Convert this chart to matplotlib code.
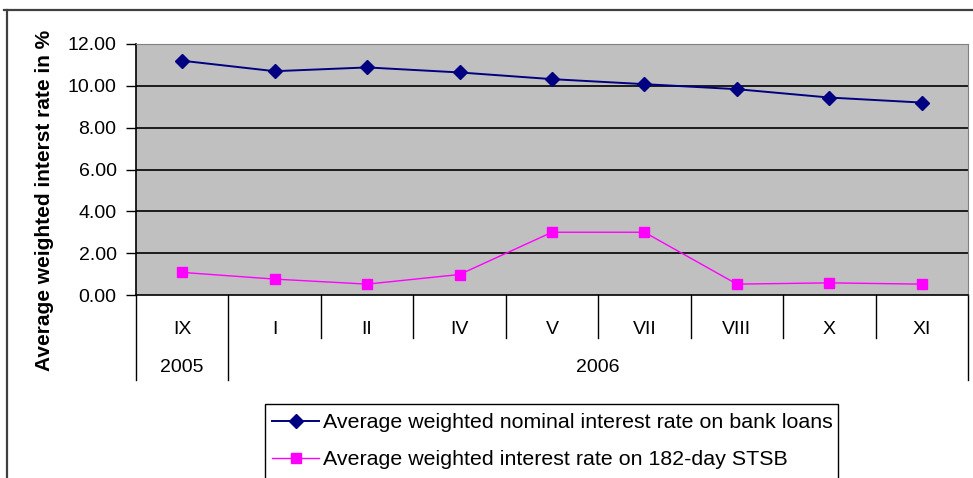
import matplotlib
matplotlib.use("Agg")
import matplotlib.pyplot as plt
from matplotlib.patches import Rectangle
from matplotlib.lines import Line2D
import matplotlib.transforms as mtransforms

plt.rcParams['font.family'] = ['Liberation Sans', 'DejaVu Sans']

months = ['IX', 'I', 'II', 'IV', 'V', 'VII', 'VIII', 'X', 'XI']
years = ['2005', '2006']
year_spans = [(0, 0), (1, 8)]  # first and last month index of each year
loans = [11.20, 10.70, 10.88, 10.64, 10.32, 10.08, 9.84, 9.44, 9.20]
stsb = [1.08, 0.76, 0.52, 0.98, 3.00, 3.00, 0.52, 0.58, 0.52]
loans_label = 'Average weighted nominal interest rate on bank loans'
stsb_label = 'Average weighted interest rate on 182-day STSB'
yticks = [0, 2, 4, 6, 8, 10, 12]

W, H = 973, 478
fig = plt.figure(figsize=(W / 100, H / 100), dpi=100)

def px(x0, y0, x1, y1):
    # pixel box (top-left origin) -> figure fraction rect
    return [x0 / W, 1 - y1 / H, (x1 - x0) / W, (y1 - y0) / H]

# outer chart frame (partly cut off by the picture edge)
fig.add_artist(Line2D([4 / W, 1], [1 - 10 / H] * 2, color='#404040', lw=1.6))
fig.add_artist(Line2D([7 / W] * 2, [0, 1 - 10 / H], color='#404040', lw=1.6))

ax = fig.add_axes(px(136, 44, 968, 295))
ax.set_facecolor('#C0C0C0')
x = list(range(len(months)))
ax.plot(x, loans, color='#000080', lw=1.4, marker='D', ms=7, label=loans_label)
ax.plot(x, stsb, color='#FF00FF', lw=1.0, marker='s', ms=7, label=stsb_label)

ax.set_xlim(-0.5, len(months) - 0.5)
ax.set_ylim(0, 12)
ax.set_yticks(yticks)
ax.set_yticklabels(['%.2f' % v for v in yticks], fontsize=14)
for v in yticks[1:-1]:
    ax.axhline(v, color='black', lw=1.2, zorder=1)
ax.tick_params(axis='y', length=7, width=1, pad=7, direction='out')

# category axis: month labels, separators and year row
ax.set_xticks(x)
ax.set_xticklabels(months, fontsize=14)
ax.tick_params(axis='x', length=0, pad=19)
trans = mtransforms.blended_transform_factory(ax.transData, ax.transAxes)
bound = [i - 0.5 for i in range(len(months) + 1)]
year_bounds = [year_spans[0][0] - 0.5] + [s[1] + 0.5 for s in year_spans]
for b in bound:
    bottom = -0.34 if b in year_bounds else -0.17
    ax.plot([b, b], [0, bottom], color='black', lw=1, transform=trans, clip_on=False)
for name, (a, b) in zip(years, year_spans):
    ax.text((a + b) / 2, -0.29, name, transform=trans, ha='center', va='center', fontsize=14)

for s in ['top', 'right']:
    ax.spines[s].set_color('#808080')
for s in ['left', 'bottom']:
    ax.spines[s].set_color('black')
    ax.spines[s].set_linewidth(1.2)

fig.text(45 / W, 1 - 200 / H, 'Average weighted interst rate in %', rotation=90,
         ha='center', va='center', fontsize=15, fontweight='bold')

# legend with a frame that runs off the bottom edge
fig.add_artist(Rectangle((265 / W, -0.05), (838 - 265) / W, (1 - 404 / H) + 0.05,
                         transform=fig.transFigure, fill=False, ec='black', lw=1))
fig.legend(loc='upper left', bbox_to_anchor=(272 / W, 1 - 413 / H), frameon=False,
           fontsize=15.4, handlelength=2.2, handletextpad=0.2, labelspacing=0.85,
           borderaxespad=0, borderpad=0)

fig.savefig('out.png', dpi=100)
